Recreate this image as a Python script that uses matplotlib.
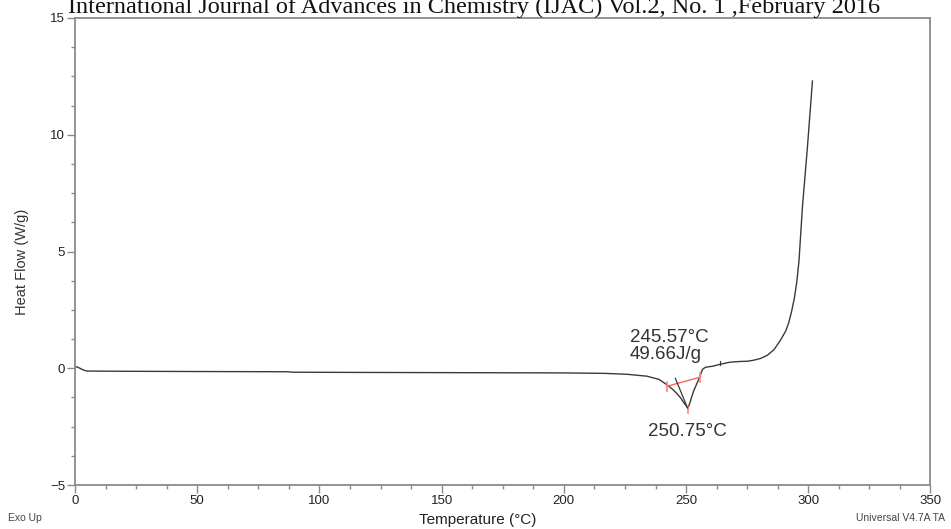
import numpy as np
import matplotlib
matplotlib.use("Agg")
import matplotlib.pyplot as plt
from matplotlib.ticker import MultipleLocator

# ============================
# Data
# ============================
temp_c = [0.0, 0.8, 2.0, 3.5, 5.0, 20.0, 50.0, 87.0, 89.0, 120.0, 160.0, 200.0,
          217.0, 226.0, 234.0, 239.0, 242.3, 244.5, 246.4, 248.0, 248.9, 250.0,
          250.7, 251.5, 253.0, 255.5, 256.7, 257.9, 261.0, 264.0, 268.0, 272.0,
          275.0, 277.5, 280.5, 283.3, 286.0, 288.6, 290.8, 292.0, 293.2, 294.3,
          295.3, 296.2, 297.6, 299.6, 301.7]
heat_flow = [0.05, 0.06, 0.0, -0.08, -0.12, -0.13, -0.14, -0.15, -0.17, -0.18, -0.19, -0.2,
             -0.22, -0.26, -0.34, -0.48, -0.72, -0.9, -1.1, -1.3, -1.45, -1.6,
             -1.72, -1.5, -1.0, -0.39, -0.05, 0.04, 0.09, 0.17, 0.26, 0.29,
             0.3, 0.34, 0.42, 0.56, 0.8, 1.2, 1.6, 1.95, 2.45, 3.0,
             3.7, 4.6, 6.9, 9.4, 12.3]

# integration baseline and onset tangent (TA analysis marks)
base_t = [242.3, 255.5]
base_v = [-0.77, -0.39]
tangent_t = [245.6, 250.6]
tangent_v = [-0.43, -1.7]
peak_t, peak_v = 250.7, -1.72

onset_label = "245.57°C\n49.66J/g"
peak_label = "250.75°C"
title_txt = "International Journal of Advances in Chemistry (IJAC) Vol.2, No. 1 ,February 2016"

GRAY = "#8a8a8a"

# ============================
# Figure
# ============================
plt.rcParams["font.family"] = ["Liberation Sans", "DejaVu Sans"]
fig = plt.figure(figsize=(9.51, 5.29), dpi=100)
ax = fig.add_axes([75 / 951, 1 - 485 / 529, (930.5 - 75) / 951, (485 - 18) / 529])

ax.plot(temp_c, heat_flow, color="#3a3a3a", lw=1.0)

# analysis marks
ax.plot(base_t, base_v, color="#ff6060", lw=1.0)
for t, v in zip(base_t, base_v):
    ax.plot([t, t], [v - 0.2, v + 0.2], color="#ff8080", lw=1.2)
ax.plot([peak_t, peak_t], [peak_v - 0.2, peak_v + 0.05], color="#ff8080", lw=1.2)
ax.plot(tangent_t, tangent_v, color="#3a3a3a", lw=0.9)
ax.plot([264, 264], [0.12, 0.3], color="#3a3a3a", lw=0.8)

ax.text(227, 0.95, onset_label, fontsize=13.5, color="#333333",
        ha="left", va="center", linespacing=1.0)
ax.text(250.7, -2.7, peak_label, fontsize=13.5, color="#333333",
        ha="center", va="center")

ax.set_xlim(0, 350)
ax.set_ylim(-5, 15)
ax.xaxis.set_major_locator(MultipleLocator(50))
ax.xaxis.set_minor_locator(MultipleLocator(12.5))
ax.yaxis.set_major_locator(MultipleLocator(5))
ax.yaxis.set_minor_locator(MultipleLocator(1.25))

for s in ax.spines.values():
    s.set_color(GRAY)
    s.set_linewidth(1.3)
ax.tick_params(which="major", direction="out", length=6, width=1.0, color=GRAY,
               labelsize=9.5, labelcolor="#222222", pad=1)
ax.tick_params(which="minor", direction="out", length=3, width=1.0, color=GRAY)

fig.text(22 / 951, 1 - 262 / 529, "Heat Flow (W/g)", rotation=90, fontsize=10.5,
         ha="center", va="center", color="#333333")
fig.text(478 / 951, 1 - 520 / 529, "Temperature (°C)", fontsize=11,
         ha="center", va="center", color="#222222")
fig.text(8 / 951, 1 - 518 / 529, "Exo Up", fontsize=7.5, ha="left", va="center",
         color="#444444")
fig.text(945 / 951, 1 - 518 / 529, "Universal V4.7A TA", fontsize=7.5, ha="right",
         va="center", color="#444444")

# journal header, clipped at the top of the page
fig.text(474 / 951, 1 - 13 / 529, title_txt, fontsize=17.5, family="Liberation Serif",
         ha="center", va="baseline", color="#111111")

fig.savefig("out.png", dpi=100)
